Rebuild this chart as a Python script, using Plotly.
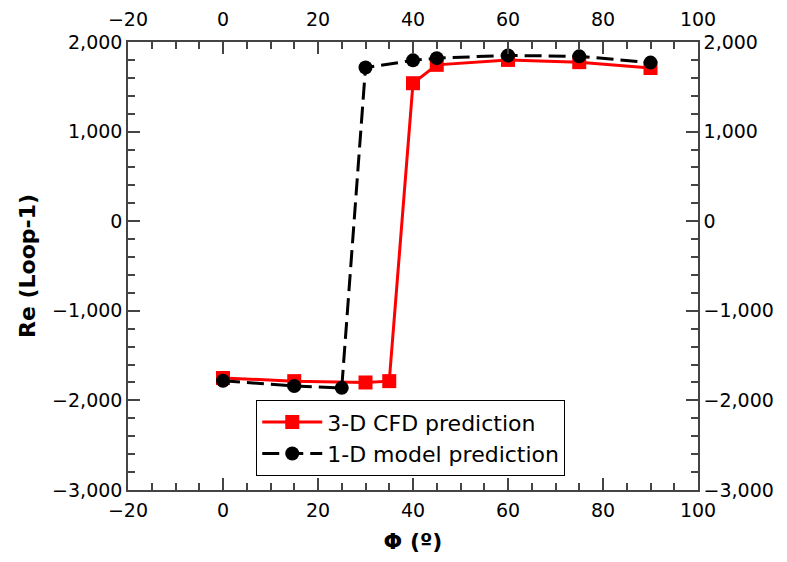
import plotly.graph_objects as go

phi_cfd = [0, 15, 30, 35, 40, 45, 60, 75, 90]
re_cfd = [-1750, -1785, -1800, -1785, 1540, 1745, 1800, 1775, 1710]
phi_1d = [0, 15, 25, 30, 40, 45, 60, 75, 90]
re_1d = [-1780, -1840, -1860, 1715, 1795, 1820, 1850, 1840, 1770]

x_range = [-20, 100]
y_range = [-3000, 2000]

FONT = "DejaVu Sans"
AX = "#444444"

fig = go.Figure()
fig.add_trace(go.Scatter(x=phi_cfd, y=re_cfd, mode="lines+markers", name="3-D CFD prediction",
                         line=dict(color="#ff0000", width=3),
                         marker=dict(symbol="square", size=14, color="#ff0000")))
fig.add_trace(go.Scatter(x=phi_1d, y=re_1d, mode="lines+markers", name="1-D model prediction",
                         line=dict(color="#000000", width=3, dash="17px,7px"),
                         marker=dict(symbol="circle", size=14, color="#000000")))
fig.add_trace(go.Scatter(x=[None], y=[None], xaxis="x2", yaxis="y2", showlegend=False, hoverinfo="skip"))

common = dict(showgrid=False, zeroline=False, showline=True, linecolor=AX, linewidth=1.5,
              ticks="inside", tickcolor=AX, tickwidth=1.5, ticklen=12, automargin=False,
              tickfont=dict(family=FONT, size=19, color="black"))
xmin = dict(ticks="inside", ticklen=7, tickcolor=AX, tickwidth=1.5, dtick=5, showgrid=False)
ymin = dict(ticks="inside", ticklen=7, tickcolor=AX, tickwidth=1.5, dtick=200, showgrid=False)

fig.update_layout(
    width=771, height=546,
    margin=dict(l=120, r=81, t=34, b=64),
    paper_bgcolor="white", plot_bgcolor="white",
    font=dict(family=FONT, size=19, color="black"),
    xaxis=dict(range=x_range, dtick=20, tick0=-20, minor=xmin, ticklabelstandoff=2,
               title=dict(text="<b>Φ (º)</b>", font=dict(family=FONT, size=22), standoff=18), **common),
    yaxis=dict(range=y_range, dtick=1000, tickformat=",", minor=ymin,
               title=dict(text="<b>Re (Loop-1)</b>", font=dict(family=FONT, size=22), standoff=10), **common),
    xaxis2=dict(range=x_range, dtick=20, tick0=-20, overlaying="x", side="top", anchor="y",
                minor=xmin, ticklabelstandoff=7, **common),
    yaxis2=dict(range=y_range, dtick=1000, tickformat=",", overlaying="y", side="right", anchor="x", minor=ymin, **common),
    legend=dict(x=0.225, y=0.031, xanchor="left", yanchor="bottom",
                bordercolor="black", borderwidth=1, bgcolor="white", itemwidth=60,
                font=dict(family=FONT, size=22), tracegroupgap=0),
    showlegend=True,
)

fig.write_html("out.html")
